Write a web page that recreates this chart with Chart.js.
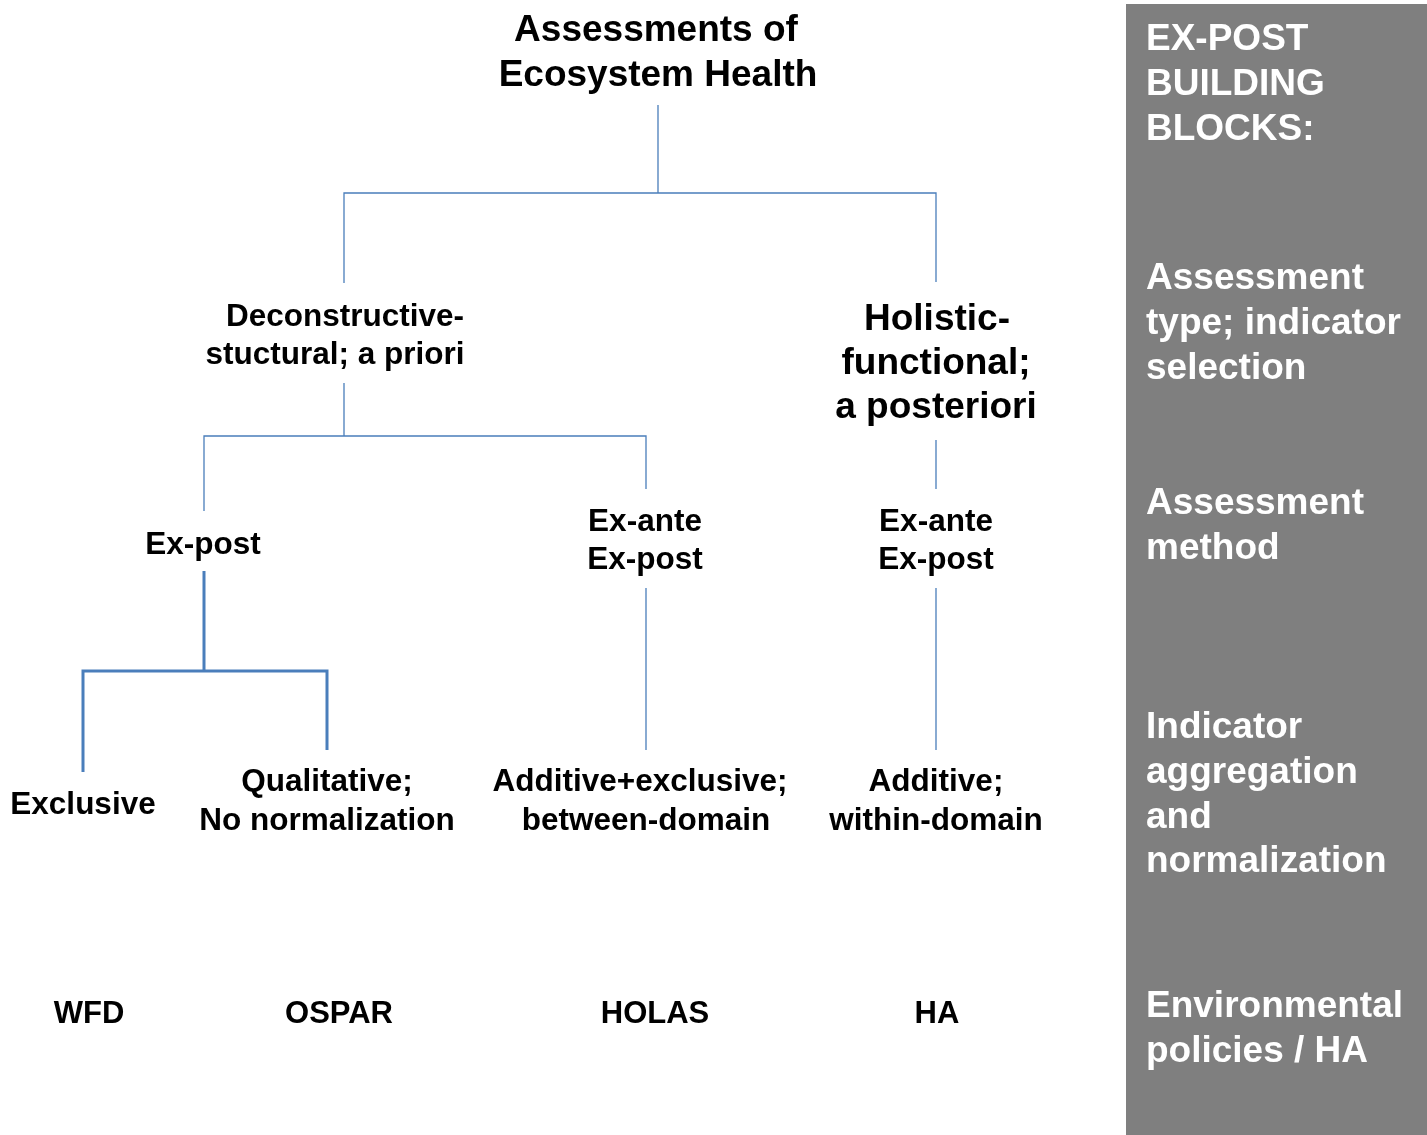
<!DOCTYPE html>
<html>
<head>
<meta charset="utf-8">
<script src="https://cdn.jsdelivr.net/npm/chart.js@4.4.1/dist/chart.umd.min.js"></script>
<style>
html,body{margin:0;padding:0;background:#fff;}
#wrap{width:1427px;height:1135px;}
</style>
</head>
<body>
<div id="wrap"><canvas id="c" width="1427" height="1135"></canvas></div>
<script>
// ---- Data (diagram units: x 0..1427, y 0..1135 top-down) ----
// Tree nodes: label lines, anchor x, line y's
const nodeLabels = [
  ["Assessments of", "Ecosystem Health"],
  ["Deconstructive-", "stuctural; a priori"],
  ["Holistic-", "functional;", "a posteriori"],
  ["Ex-post"],
  ["Ex-ante", "Ex-post"],
  ["Ex-ante", "Ex-post"],
  ["Exclusive"],
  ["Qualitative;", "No normalization"],
  ["Additive+exclusive;", "between-domain"],
  ["Additive;", "within-domain"]
];
const nodeLineX = [
  [656, 658],
  [345, 335],
  [937, 936, 936],
  [203],
  [645, 645],
  [936, 936],
  [83],
  [327, 327],
  [640, 646],
  [936, 936]
];
const nodeLineY = [
  [28, 73],
  [315, 353],
  [317, 361, 405],
  [543],
  [520, 558],
  [520, 558],
  [803],
  [780, 819],
  [780, 819],
  [780, 819]
];
const nodeLevelSize = [37, 31.5, 37, 31.5, 31.5, 31.5, 31.5, 31.5, 31.5, 31.5];

// Policies (bottom row)
const policyLabels = ["WFD", "OSPAR", "HOLAS", "HA"];
const policyX = [89, 339, 655, 937];
const policyY = 1012;

// Connectors: parent stem start, bus y, children end points
const connectorParent = [[658, 105], [344, 383], [936, 440], [204, 571], [646, 588], [936, 588]];
const connectorBusY   = [193, 436, null, 671, null, null];
const connectorChildren = [
  [[344, 283], [936, 282]],
  [[204, 511], [646, 489]],
  [[936, 489]],
  [[83, 772], [327, 750]],
  [[646, 750]],
  [[936, 750]]
];
const connectorThick = [false, false, false, true, false, false];

// Side panel
const panelLabels = [
  ["EX-POST", "BUILDING", "BLOCKS:"],
  ["Assessment", "type; indicator", "selection"],
  ["Assessment", "method"],
  ["Indicator", "aggregation", "and", "normalization"],
  ["Environmental", "policies / HA"]
];
const panelFirstY = [37, 276, 501, 725, 1004];
const panelX = 1146;
const panelBox = {x0: 1126, x1: 1427, y0: 4, y1: 1135};

// ---- Build datasets ----
const datasets = connectorParent.map((p, i) => {
  const kids = connectorChildren[i];
  let pts;
  if (connectorBusY[i] === null) {
    pts = [{x: p[0], y: p[1]}, {x: kids[0][0], y: kids[0][1]}];
  } else {
    const b = connectorBusY[i];
    const a = kids[0], c = kids[kids.length - 1];
    pts = [
      {x: a[0], y: a[1]}, {x: a[0], y: b},
      {x: p[0], y: b}, {x: p[0], y: p[1]}, {x: p[0], y: b},
      {x: c[0], y: b}, {x: c[0], y: c[1]}
    ];
  }
  return {
    data: pts,
    showLine: true,
    borderColor: '#4a7ebb',
    borderWidth: connectorThick[i] ? 3 : 1.3,
    pointRadius: 0,
    borderCapStyle: 'butt',
    borderJoinStyle: 'miter',
    tension: 0
  };
});

const FONT = '"Liberation Sans", Arial, Helvetica, sans-serif';
const TEXT_DY = 2.5; // middle-baseline correction

const panelPlugin = {
  id: 'panel',
  beforeDatasetsDraw(chart) {
    const {ctx, scales: {x, y}} = chart;
    ctx.save();
    ctx.fillStyle = '#7f7f7f';
    const px0 = x.getPixelForValue(panelBox.x0), px1 = x.getPixelForValue(panelBox.x1);
    const py0 = y.getPixelForValue(panelBox.y0), py1 = y.getPixelForValue(panelBox.y1);
    ctx.fillRect(px0, py0, px1 - px0, py1 - py0);
    ctx.restore();
  },
  afterDatasetsDraw(chart) {
    const {ctx, scales: {x, y}} = chart;
    ctx.save();
    ctx.textBaseline = 'middle';
    // tree nodes
    ctx.fillStyle = '#000';
    ctx.textAlign = 'center';
    nodeLabels.forEach((lines, i) => {
      ctx.font = 'bold ' + nodeLevelSize[i] + 'px ' + FONT;
      lines.forEach((t, j) => {
        ctx.fillText(t, x.getPixelForValue(nodeLineX[i][j]), y.getPixelForValue(nodeLineY[i][j]) + TEXT_DY);
      });
    });
    // policies
    ctx.font = 'bold 31px ' + FONT;
    policyLabels.forEach((t, i) => {
      ctx.fillText(t, x.getPixelForValue(policyX[i]), y.getPixelForValue(policyY) + TEXT_DY);
    });
    // panel text
    ctx.fillStyle = '#fff';
    ctx.textAlign = 'left';
    ctx.font = 'bold 37px ' + FONT;
    panelLabels.forEach((lines, i) => {
      lines.forEach((t, j) => {
        ctx.fillText(t, x.getPixelForValue(panelX), y.getPixelForValue(panelFirstY[i] + j * 44.7) + 3);
      });
    });
    ctx.restore();
  }
};

new Chart(document.getElementById('c'), {
  type: 'scatter',
  data: {datasets},
  options: {
    responsive: false,
    animation: false,
    layout: {padding: 0},
    plugins: {legend: {display: false}, tooltip: {enabled: false}},
    scales: {
      x: {type: 'linear', min: 0, max: 1427, display: false},
      y: {type: 'linear', min: 0, max: 1135, reverse: true, display: false}
    }
  },
  plugins: [panelPlugin]
});
</script>
</body>
</html>
